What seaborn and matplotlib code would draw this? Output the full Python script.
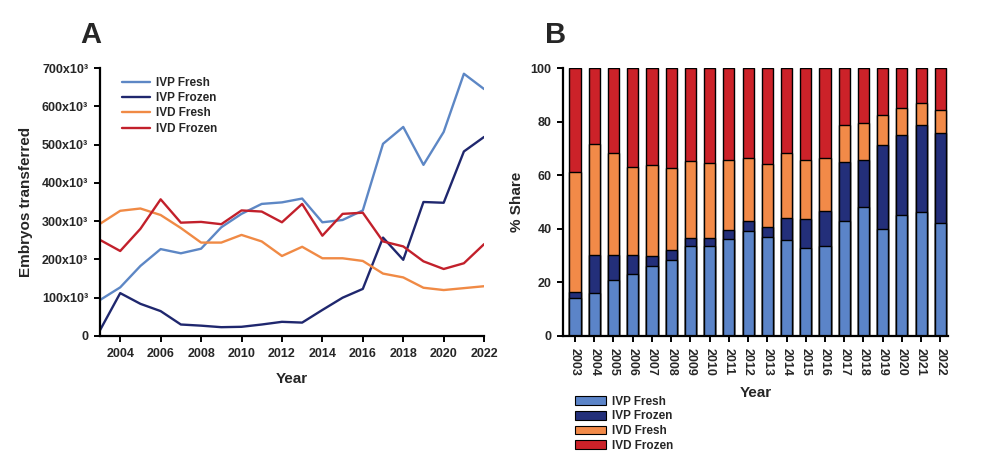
import numpy as np
import pandas as pd
import matplotlib
matplotlib.use("Agg")
import matplotlib.pyplot as plt
from matplotlib.patches import Patch
from matplotlib.ticker import FuncFormatter
import seaborn as sns

years = list(range(2003, 2023))
series = ["IVP Fresh", "IVP Frozen", "IVD Fresh", "IVD Frozen"]
colors_line = ["#5d87c5", "#1f276e", "#f08a45", "#c2202b"]
colors_bar = ["#5b84c8", "#232f7a", "#f28a48", "#cc2229"]

# Panel A: embryos transferred (thousands)
ivp_fresh = [94, 127, 183, 227, 216, 228, 284, 319, 345, 349, 359, 297, 303, 328, 502, 546, 447, 533, 685, 645]
ivp_frozen = [15, 112, 84, 65, 30, 27, 23, 24, 30, 37, 35, 68, 100, 123, 257, 199, 350, 348, 482, 520]
ivd_fresh = [293, 327, 333, 316, 282, 244, 244, 264, 247, 209, 233, 203, 203, 196, 163, 153, 126, 120, 125, 130]
ivd_frozen = [251, 222, 280, 357, 296, 298, 292, 328, 325, 297, 345, 262, 319, 322, 247, 234, 195, 175, 190, 240]

# Panel B: % share
share_ivp_fresh = [14.1, 16.0, 20.8, 23.3, 26.0, 28.5, 33.6, 33.6, 36.3, 39.0, 36.9, 35.8, 33.0, 33.6, 42.9, 48.1, 40.0, 45.1, 46.3, 42.0]
share_ivp_frozen = [2.3, 14.4, 9.6, 7.1, 3.8, 3.6, 2.8, 2.9, 3.1, 4.0, 3.6, 8.2, 10.5, 12.9, 22.0, 17.7, 31.3, 29.8, 32.5, 33.9]
share_ivd_fresh = [44.7, 41.2, 37.7, 32.5, 34.1, 30.4, 29.0, 28.0, 26.1, 23.6, 23.8, 24.1, 22.0, 20.1, 14.0, 13.5, 11.3, 10.1, 8.3, 8.5]
share_ivd_frozen = [38.9, 28.4, 31.9, 37.1, 36.1, 37.5, 34.6, 35.5, 34.5, 33.4, 35.7, 31.9, 34.5, 33.4, 21.1, 20.7, 17.4, 15.0, 12.9, 15.6]

sns.set_theme(style="ticks")
plt.rcParams["font.family"] = ["Liberation Sans", "DejaVu Sans"]
plt.rcParams["font.weight"] = "bold"
plt.rcParams["axes.labelweight"] = "bold"

fig = plt.figure(figsize=(9.9, 4.69), dpi=100)
axA = fig.add_axes([0.101, 0.2836, 0.388, 0.5714])
axB = fig.add_axes([0.569, 0.2836, 0.389, 0.5714])

# ---- Panel A ----
dfA = pd.DataFrame({
    "Year": years * 4,
    "value": ivp_fresh + ivp_frozen + ivd_fresh + ivd_frozen,
    "Series": sum([[s] * len(years) for s in series], []),
})
sns.lineplot(data=dfA, x="Year", y="value", hue="Series", hue_order=series,
             palette=colors_line, linewidth=1.7, ax=axA)
axA.set_xlim(2003, 2022)
axA.set_ylim(0, 700)
axA.set_xticks(range(2004, 2023, 2))
axA.set_yticks(range(0, 701, 100))
axA.yaxis.set_major_formatter(FuncFormatter(lambda v, p: "0" if v == 0 else f"{int(v)}x10³"))
axA.set_xlabel("Year", fontsize=11, fontweight="bold", labelpad=9)
axA.set_ylabel("Embryos transferred", fontsize=11, fontweight="bold", labelpad=6)
leg = axA.legend(loc="upper left", bbox_to_anchor=(0.035, 0.998), frameon=False,
                 fontsize=8.5, handlelength=2.4, labelspacing=0.28, borderaxespad=0.3,
                 handletextpad=0.5)
for t in leg.get_texts():
    t.set_fontweight("bold")

# ---- Panel B ----
cum1 = np.array(share_ivp_fresh)
cum2 = cum1 + np.array(share_ivp_frozen)
cum3 = cum2 + np.array(share_ivd_fresh)
cum4 = cum3 + np.array(share_ivd_frozen)
levels = [cum4, cum3, cum2, cum1]
bar_cols = [colors_bar[3], colors_bar[2], colors_bar[1], colors_bar[0]]
for lev, c in zip(levels, bar_cols):
    dfB = pd.DataFrame({"Year": [str(y) for y in years], "v": lev})
    sns.barplot(data=dfB, x="Year", y="v", color=c, width=0.58, edgecolor="black",
                linewidth=1.0, saturation=1, ax=axB)
axB.set_xlim(-0.61, 19.42)
axB.set_ylim(0, 100)
axB.set_yticks(range(0, 101, 20))
axB.tick_params(axis="x", rotation=-90)
axB.set_xlabel("Year", fontsize=11, fontweight="bold", labelpad=7)
axB.set_ylabel("% Share", fontsize=11, fontweight="bold", labelpad=5)
handles = [Patch(facecolor=c, edgecolor="black", linewidth=0.8) for c in colors_bar]
legB = fig.legend(handles, series, loc="upper left", bbox_to_anchor=(0.576, 0.166),
                  frameon=False, fontsize=8.5, handlelength=2.6, handleheight=0.75,
                  labelspacing=0.22, borderaxespad=0, handletextpad=0.55)
for t in legB.get_texts():
    t.set_fontweight("bold")

for ax in (axA, axB):
    sns.despine(ax=ax)
    for s in ("left", "bottom"):
        ax.spines[s].set_linewidth(1.6)
        ax.spines[s].set_color("black")
    ax.tick_params(width=1.4, length=4, color="black", labelsize=9, direction="out", pad=4.5)
    for lab in ax.get_xticklabels() + ax.get_yticklabels():
        lab.set_fontweight("bold")

fig.text(0.081, 0.925, "A", fontsize=21, fontweight="bold", ha="left", va="center")
fig.text(0.551, 0.925, "B", fontsize=21, fontweight="bold", ha="left", va="center")

fig.savefig("out.png", dpi=100, facecolor="white")
